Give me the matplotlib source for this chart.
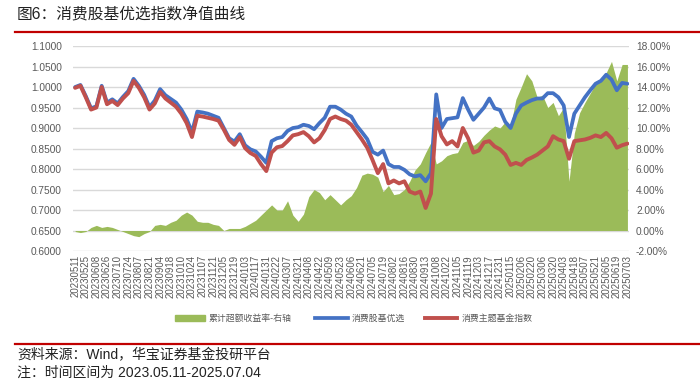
import numpy as np
import matplotlib
matplotlib.use("Agg")
import matplotlib.pyplot as plt
from matplotlib.lines import Line2D
from matplotlib.patches import Rectangle
from matplotlib.ticker import FuncFormatter, MultipleLocator

plt.rcParams['font.family'] = ['Liberation Sans', 'Noto Sans CJK SC', 'DejaVu Sans']

# tick labels, one every 10 trading days (every 2nd weekly point)
dates = ['20230511', '20230525', '20230608', '20230626', '20230710', '20230724', '20230807',
         '20230821', '20230904', '20230918', '20231010', '20231024', '20231107', '20231121',
         '20231205', '20231219', '20240103', '20240117', '20240131', '20240222', '20240307',
         '20240321', '20240408', '20240422', '20240509', '20240523', '20240606', '20240621',
         '20240705', '20240719', '20240802', '20240816', '20240830', '20240913', '20241008',
         '20241022', '20241105', '20241119', '20241203', '20241217', '20241231', '20250115',
         '20250206', '20250220', '20250306', '20250320', '20250403', '20250418', '20250507',
         '20250521', '20250605', '20250619', '20250703']

# weekly readings (every 5 trading days)
optimal = [1.000, 1.005, 0.978, 0.948, 0.953, 1.003, 0.962, 0.970, 0.960, 0.976,
           0.990, 1.020, 1.003, 0.981, 0.951, 0.967, 0.995, 0.980, 0.971, 0.962,
           0.945, 0.922, 0.890, 0.940, 0.938, 0.935, 0.930, 0.925, 0.900, 0.875,
           0.867, 0.885, 0.858, 0.848, 0.843, 0.830, 0.815, 0.868, 0.875, 0.878,
           0.893, 0.900, 0.902, 0.908, 0.905, 0.897, 0.912, 0.925, 0.952, 0.952,
           0.945, 0.935, 0.928, 0.906, 0.890, 0.873, 0.842, 0.835, 0.845, 0.812,
           0.805, 0.805, 0.798, 0.787, 0.782, 0.785, 0.770, 0.790, 0.982, 0.900,
           0.922, 0.924, 0.926, 0.973, 0.945, 0.920, 0.935, 0.950, 0.972, 0.948,
           0.944, 0.915, 0.900, 0.935, 0.955, 0.962, 0.968, 0.972, 0.972, 0.985,
           0.985, 0.975, 0.955, 0.878, 0.935, 0.955, 0.975, 0.992, 1.008, 1.015,
           1.030, 1.018, 0.992, 1.010, 1.008]

fund_index = [0.998, 1.003, 0.975, 0.945, 0.950, 1.000, 0.958, 0.966, 0.956, 0.972,
              0.985, 1.015, 0.998, 0.975, 0.945, 0.960, 0.988, 0.972, 0.962, 0.952,
              0.935, 0.912, 0.878, 0.930, 0.928, 0.925, 0.922, 0.918, 0.896, 0.871,
              0.859, 0.878, 0.851, 0.839, 0.832, 0.812, 0.795, 0.840, 0.853, 0.856,
              0.868, 0.882, 0.885, 0.890, 0.880, 0.865, 0.875, 0.895, 0.922, 0.928,
              0.922, 0.918, 0.908, 0.890, 0.872, 0.852, 0.822, 0.790, 0.812, 0.765,
              0.772, 0.765, 0.770, 0.745, 0.740, 0.745, 0.705, 0.740, 0.922, 0.880,
              0.860, 0.868, 0.855, 0.900, 0.875, 0.840, 0.845, 0.865, 0.868, 0.855,
              0.848, 0.835, 0.810, 0.815, 0.810, 0.822, 0.828, 0.835, 0.845, 0.855,
              0.880, 0.872, 0.868, 0.825, 0.868, 0.870, 0.872, 0.876, 0.882, 0.878,
              0.888, 0.875, 0.852, 0.858, 0.862]

excess = [-0.1, -0.2, -0.1, 0.3, 0.5, 0.3, 0.4, 0.3, 0.1, -0.1,
          -0.3, -0.5, -0.6, -0.3, -0.1, 0.5, 0.6, 0.5, 0.8, 1.0,
          1.5, 1.8, 1.5, 0.9, 0.8, 0.8, 0.6, 0.5, 0.0, 0.2,
          0.2, 0.2, 0.4, 0.7, 1.0, 1.5, 2.0, 2.5, 2.0, 2.0,
          2.9, 1.5, 0.9, 1.6, 3.3, 4.0, 3.7, 3.0, 3.5, 3.0,
          2.5, 3.0, 3.4, 4.2, 5.4, 5.6, 5.5, 5.2, 3.8, 4.4,
          3.5, 3.6, 4.0, 4.8, 5.9, 6.5, 7.6, 8.6, 6.5, 6.8,
          7.3, 7.5, 7.6, 8.6, 8.8, 8.3, 8.7, 9.3, 9.8, 10.2,
          10.0, 10.6, 10.2, 12.8, 14.0, 15.3, 14.6, 13.0, 13.2, 12.0,
          12.5, 11.2, 12.0, 4.8, 9.5, 11.5, 12.5, 13.4, 14.3, 14.6,
          15.4, 16.5, 14.6, 16.2, 16.2]

x = np.arange(len(optimal))
GREEN, BLUE, RED = '#9BBB59', '#4472C4', '#C0504D'

fig = plt.figure(figsize=(7, 3.87), dpi=100)
ax2 = fig.add_axes([0.1043, 0.3514, 0.7943, 0.5297])
ax = ax2.twinx()
ax.yaxis.tick_left()
ax2.yaxis.tick_right()
ax.set_zorder(ax2.get_zorder() + 1)
ax.patch.set_visible(False)

# green area on the right axis
ax2.fill_between(x, 0, excess, color=GREEN, lw=0, zorder=2)
ax2.set_ylim(-2, 18)
ax2.yaxis.set_major_locator(MultipleLocator(2))
ax2.yaxis.set_major_formatter(FuncFormatter(lambda v, p: f'{v:.2f}%'))
ax2.grid(axis='y', color='#D9D9D9', lw=1)
ax2.set_axisbelow(True)

ax.plot(x, optimal, color=BLUE, lw=2.7, solid_capstyle='round', solid_joinstyle='round')
ax.plot(x, fund_index, color=RED, lw=2.8, solid_capstyle='round', solid_joinstyle='round')
ax.set_ylim(0.6, 1.1)
ax.yaxis.set_major_locator(MultipleLocator(0.05))
ax.yaxis.set_major_formatter(FuncFormatter(lambda v, p: f'{v:.4f}'))

ax2.set_xlim(-0.4, 104.3)
ax2.set_xticks(np.arange(0, len(dates) * 2, 2))
ax2.set_xticklabels(dates, rotation=90)

for a in (ax, ax2):
    for s in a.spines.values():
        s.set_visible(False)
ax.tick_params(axis='y', length=0, pad=8, labelsize=7.3, labelcolor='#595959')
ax2.tick_params(axis='y', length=0, pad=5, labelsize=7.3, labelcolor='#595959')
ax2.tick_params(axis='x', length=0, pad=3, labelsize=7, labelcolor='#595959')

# legend drawn by hand (pixel layout of the original)
W, H = 700, 387
ly = 1 - 318 / H
fig.add_artist(Rectangle((175 / W, 1 - 321 / H), 30 / W, 6 / H, color=GREEN,
                         transform=fig.transFigure))
fig.add_artist(Line2D([315 / W, 348 / W], [ly, ly], color=BLUE, lw=2.7))
fig.add_artist(Line2D([425 / W, 457 / W], [ly, ly], color=RED, lw=2.8))
for lx, txt in [(209, '累计超额收益率-右轴'), (352, '消费股基优选'), (462, '消费主题基金指数')]:
    fig.text(lx / W, ly, txt, fontsize=6.4, va='center', color='#595959')

# title, rules and notes
fig.text(17 / W, 1 - 14 / H, '图6：消费股基优选指数净值曲线', fontsize=11.3, va='center',
         color='#222222')
fig.add_artist(Line2D([15 / W, 1], [1 - 31.5 / H] * 2, color='#C00000', lw=1.6))
fig.add_artist(Line2D([15 / W, 1], [1 - 344 / H] * 2, color='#C00000', lw=1.6))
fig.text(17 / W, 1 - 355 / H, '资料来源：Wind，华宝证券基金投研平台', fontsize=10,
         va='center', color='#222222')
fig.text(17 / W, 1 - 373 / H, '注：时间区间为 2023.05.11-2025.07.04', fontsize=10,
         va='center', color='#222222')

fig.savefig('out.png', dpi=100)
